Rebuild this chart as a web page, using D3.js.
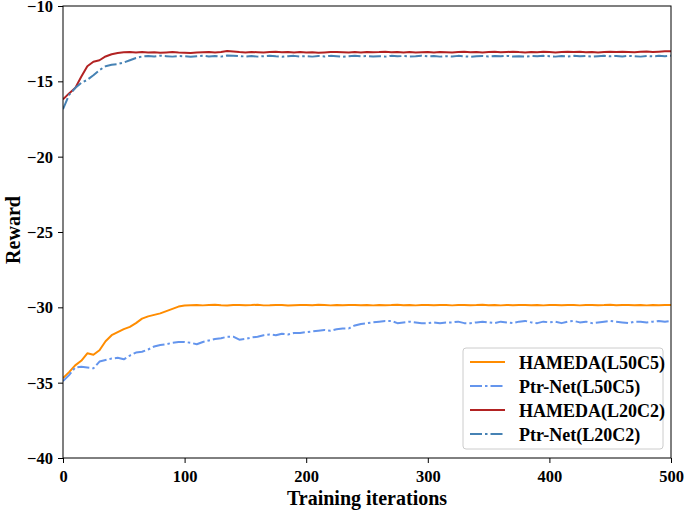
<!DOCTYPE html>
<html>
<head>
<meta charset="utf-8">
<script src="https://cdn.jsdelivr.net/npm/d3@7"></script>
<style>
  body { margin: 0; background: #fff; }
  text { font-family: "Liberation Serif", "Times New Roman", serif; font-weight: bold; }
</style>
</head>
<body>
<div id="chart"></div>
<script>
// iterations sampled every 5 steps
var iters = d3.range(0, 501, 5);

var hamedaL50 = [
  -34.70, -34.30, -33.85, -33.55, -33.05, -33.15, -32.85, -32.25, -31.85, -31.65,
  -31.45, -31.30, -31.05, -30.75, -30.60, -30.50, -30.40, -30.25, -30.10, -29.95,
  -29.88,
  -29.86, -29.84, -29.87, -29.85, -29.83, -29.86, -29.88, -29.85, -29.84, -29.86,
  -29.85, -29.83, -29.87, -29.86, -29.84, -29.85, -29.88, -29.86, -29.84, -29.85,
  -29.86, -29.83, -29.85, -29.87, -29.84, -29.86, -29.85, -29.84, -29.86, -29.85,
  -29.87, -29.84, -29.86, -29.85, -29.83, -29.86, -29.85, -29.87, -29.84, -29.85,
  -29.86, -29.84, -29.85, -29.87, -29.85, -29.84, -29.86, -29.85, -29.83, -29.86,
  -29.85, -29.87, -29.84, -29.86, -29.85, -29.84, -29.86, -29.85, -29.87, -29.84,
  -29.85, -29.86, -29.84, -29.85, -29.87, -29.85, -29.84, -29.86, -29.85, -29.83,
  -29.86, -29.85, -29.84, -29.86, -29.85, -29.87, -29.84, -29.86, -29.85, -29.84
];

var ptrL50 = [
  -34.90, -34.50, -34.00, -33.95, -34.00, -34.05, -33.60, -33.50, -33.40, -33.35,
  -33.45, -33.20, -33.00, -32.95, -32.80, -32.60, -32.50, -32.45, -32.35, -32.30,
  -32.30, -32.35, -32.45, -32.30, -32.20, -32.10, -32.05, -31.95, -31.95, -32.15,
  -32.10, -32.00, -31.95, -31.85, -31.80, -31.85, -31.75, -31.80, -31.70, -31.70,
  -31.65, -31.60, -31.55, -31.50, -31.55, -31.45, -31.40, -31.40, -31.20, -31.10,
  -31.05, -31.00, -30.95, -30.90, -30.90, -31.05, -31.00, -30.95, -31.00, -31.05,
  -31.05, -31.00, -31.05, -31.00, -31.00, -30.95, -31.05, -31.05, -31.00, -30.95,
  -31.00, -31.05, -30.95, -31.00, -31.05, -30.95, -30.90, -31.00, -31.05, -30.95,
  -31.00, -30.95, -31.05, -30.95, -30.90, -31.00, -30.95, -31.05, -31.00, -30.95,
  -30.90, -30.95, -31.00, -31.05, -30.95, -30.95, -31.00, -30.95, -30.90, -30.95,
  -30.90
];

var hamedaL20 = [
  -16.20, -15.80, -15.45, -14.70, -14.00, -13.70, -13.60, -13.35, -13.20, -13.12,
  -13.07, -13.05, -13.08, -13.06, -13.09, -13.07, -13.10, -13.08, -13.06, -13.09,
  -13.10, -13.12, -13.09, -13.07, -13.05, -13.08, -13.06, -12.98, -13.02, -13.06,
  -13.08, -13.05, -13.07, -13.09, -13.06, -13.04, -13.07, -13.05, -13.08, -13.06,
  -13.09, -13.07, -13.10, -13.08, -13.06, -13.05, -13.07, -13.09, -13.06, -13.08,
  -13.05, -13.07, -13.06, -13.04, -13.07, -13.05, -13.08, -13.06, -13.09, -13.07,
  -13.06, -13.08, -13.05, -13.07, -13.09, -13.06, -13.04, -13.07, -13.05, -13.08,
  -13.06, -13.04, -13.07, -13.05, -13.03, -13.06, -13.08, -13.05, -13.07, -13.04,
  -13.06, -13.08, -13.05, -13.03, -13.06, -13.04, -13.07, -13.05, -13.08, -13.06,
  -13.04, -13.06, -13.03, -13.05, -13.07, -13.04, -13.02, -13.05, -13.03, -13.01,
  -13.00
];

var ptrL20 = [
  -16.85, -15.90, -15.45, -15.10, -14.90, -14.60, -14.25, -14.00, -13.90, -13.85,
  -13.75, -13.60, -13.45, -13.35, -13.32, -13.35, -13.30, -13.33, -13.36, -13.32,
  -13.34, -13.37, -13.33, -13.30, -13.35, -13.32, -13.36, -13.28, -13.30, -13.33,
  -13.35, -13.32, -13.36, -13.33, -13.30, -13.34, -13.37, -13.33, -13.31, -13.35,
  -13.33, -13.36, -13.32, -13.35, -13.31, -13.34, -13.37, -13.33, -13.30, -13.34,
  -13.32, -13.35, -13.33, -13.36, -13.31, -13.34, -13.32, -13.35, -13.33, -13.30,
  -13.34, -13.32, -13.36, -13.33, -13.35, -13.31, -13.34, -13.37, -13.33, -13.32,
  -13.35, -13.32, -13.34, -13.31, -13.35, -13.33, -13.36, -13.32, -13.34, -13.31,
  -13.33, -13.36, -13.32, -13.35, -13.31, -13.34, -13.32, -13.36, -13.33, -13.30,
  -13.34, -13.32, -13.35, -13.31, -13.33, -13.36, -13.32, -13.34, -13.31, -13.33,
  -13.30
];

var seriesNames = ["HAMEDA(L50C5)", "Ptr-Net(L50C5)", "HAMEDA(L20C2)", "Ptr-Net(L20C2)"];
var seriesValues = [hamedaL50, ptrL50, hamedaL20, ptrL20];
var seriesColors = ["#ff8c00", "#6495ed", "#b22222", "#4682b4"];
var seriesDash = [null, "12,3,2.5,3", null, "12,3,2.5,3"];

var xTicks = [0, 100, 200, 300, 400, 500];
var yTicks = [-40, -35, -30, -25, -20, -15, -10];

var svgWidth = 685;
var svgHeight = 511;
var margin = { top: 6, right: 14, bottom: 53, left: 63 };
var width = svgWidth - margin.left - margin.right;
var height = svgHeight - margin.top - margin.bottom;

var svg = d3.select("#chart")
  .append("svg")
  .attr("width", svgWidth)
  .attr("height", svgHeight);

var chartGroup = svg.append("g")
  .attr("transform", `translate(${margin.left}, ${margin.top})`);

var xScale = d3.scaleLinear().domain([0, 500]).range([0, width]);
var yScale = d3.scaleLinear().domain([-40, -10]).range([height, 0]);

// clip lines to the axes box
chartGroup.append("clipPath").attr("id", "plotclip")
  .append("rect").attr("width", width).attr("height", height);

var line = d3.line()
  .x((d, i) => xScale(iters[i]))
  .y(d => yScale(d));

var linesGroup = chartGroup.append("g").attr("clip-path", "url(#plotclip)");
seriesValues.forEach(function(vals, k) {
  linesGroup.append("path")
    .datum(vals)
    .attr("d", line)
    .attr("fill", "none")
    .attr("stroke", seriesColors[k])
    .attr("stroke-width", 2)
    .attr("stroke-dasharray", seriesDash[k])
    .attr("stroke-linejoin", "round");
});

// axes
var fmt = d => String(d).replace("-", "\u2212");

var bottomAxis = d3.axisBottom(xScale).tickValues(xTicks).tickSize(5).tickPadding(7);
var leftAxis = d3.axisLeft(yScale).tickValues(yTicks).tickSize(5).tickPadding(5).tickFormat(fmt);

var xAxis = chartGroup.append("g")
  .attr("transform", `translate(0, ${height})`)
  .call(bottomAxis);
var yAxis = chartGroup.append("g").call(leftAxis);

[xAxis, yAxis].forEach(function(ax) {
  ax.select(".domain").remove();
  ax.selectAll("line").attr("stroke", "#000").attr("stroke-width", 1);
  ax.selectAll("text")
    .attr("fill", "#000")
    .style("font-size", "16.5px")
    .style("font-family", "'Liberation Serif', serif")
    .style("font-weight", "bold");
});
yAxis.selectAll("text").attr("dy", "0.34em");

// frame
chartGroup.append("rect")
  .attr("width", width)
  .attr("height", height)
  .attr("fill", "none")
  .attr("stroke", "#000")
  .attr("stroke-width", 1);

// axis labels
chartGroup.append("text")
  .attr("x", width / 2)
  .attr("y", height + 47)
  .attr("text-anchor", "middle")
  .style("font-size", "20px")
  .text("Training iterations");

chartGroup.append("text")
  .attr("transform", "rotate(-90)")
  .attr("x", -height / 2 + 2)
  .attr("y", -margin.left + 20)
  .attr("text-anchor", "middle")
  .style("font-size", "20px")
  .text("Reward");

// legend
var legend = chartGroup.append("g")
  .attr("transform", `translate(${463 - margin.left}, ${348 - margin.top})`);

legend.append("rect")
  .attr("width", 200)
  .attr("height", 101)
  .attr("rx", 3)
  .attr("fill", "#fff")
  .attr("fill-opacity", 0.8)
  .attr("stroke", "#cccccc")
  .attr("stroke-width", 1);

seriesNames.forEach(function(name, k) {
  var yy = 14 + k * 24;
  legend.append("line")
    .attr("x1", 7).attr("x2", 42)
    .attr("y1", yy).attr("y2", yy)
    .attr("stroke", seriesColors[k])
    .attr("stroke-width", 2)
    .attr("stroke-dasharray", seriesDash[k]);
  legend.append("text")
    .attr("x", 56)
    .attr("y", yy + 6.5)
    .style("font-size", "18px")
    .attr("fill", "#000")
    .text(name);
});
</script>
</body>
</html>
